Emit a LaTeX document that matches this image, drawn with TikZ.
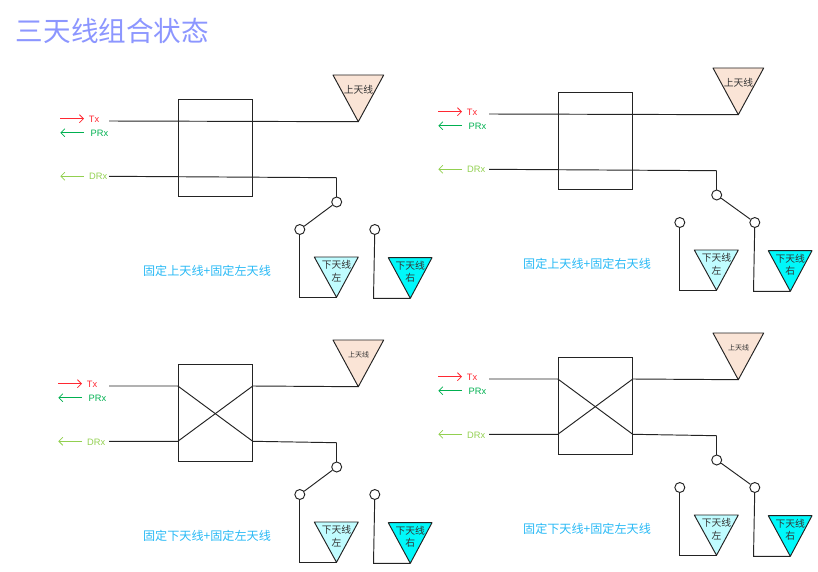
\documentclass[tikz,border=0pt]{standalone}
\usepackage{fontspec}
\setmainfont{Liberation Sans}
\newfontfamily\cjk{Noto Sans CJK SC}
\usetikzlibrary{arrows.meta}
\definecolor{coltitle}{RGB}{140,150,255}
\definecolor{colcap}{RGB}{40,185,245}
\definecolor{coltx}{RGB}{255,40,50}
\definecolor{colprx}{RGB}{0,176,80}
\definecolor{coldrx}{RGB}{146,208,80}
\definecolor{coltop}{RGB}{250,228,214}
\definecolor{colleft}{RGB}{192,252,255}
\definecolor{colright}{RGB}{0,248,250}
\definecolor{colwire}{RGB}{35,35,35}
\tikzset{
  wire/.style={colwire, line width=0.95pt},
  sigarrow/.style={line width=0.8pt, -{Straight Barb[length=4pt,width=8pt]}},
  siglab/.style={anchor=west, inner ysep=0pt, font=\fontsize{9.3}{10}\selectfont},
  antenna/.style={wire, line join=round},
  antlab/.style={align=center, inner sep=0pt, text=black!80, font=\fontsize{9.8}{12.3}\selectfont\cjk},
  contact/.style={wire, circle, draw, fill=white, inner sep=0pt, minimum size=10pt},
  duplexer/.style={wire, draw, fill=white, inner sep=0pt, minimum width=74pt, minimum height=96.7pt},
  caption/.style={colcap, inner sep=0pt, font=\fontsize{12.1}{14}\selectfont\cjk}
}
% common part of a panel: #1 label shift, #2 caption, #3 top antenna label font size
\newcommand{\panelbase}[3]{
  \node (box) [duplexer] at (215.3, 148.3) {};
  \coordinate (txin) at (109, 121);
  \coordinate (drxin) at (109, 176.3);
  \coordinate (txwest) at (box.west |- txin);
  \coordinate (txeast) at (box.east |- txin);
  \coordinate (drxwest) at (box.west |- drxin);
  \coordinate (drxeast) at (box.east |- drxin);
  % signal labels and their arrows
  \coordinate (txtail) at (#1+58.3, 118.7);
  \coordinate (prxtip) at (#1+58.3, 132.7);
  \coordinate (drxtip) at (#1+58.3, 176.3);
  \node (txlab) [siglab, coltx, inner xsep=4.7pt] at (#1+82, 119.2) {Tx};
  \node (prxlab) [siglab, colprx, inner xsep=6.5pt] at (#1+82, 133.2) {PRx};
  \node (drxlab) [siglab, coldrx, inner xsep=5pt] at (#1+82, 176.8) {DRx};
  \draw [sigarrow, coltx] (txtail) -- (txlab.west |- txtail);
  \draw [sigarrow, colprx] (prxlab.west |- prxtip) -- (prxtip);
  \draw [sigarrow, coldrx] (drxlab.west |- drxtip) -- (drxtip);
  % antennas
  \draw [antenna, fill=coltop] (333, 75) -- (383.7, 75) -- (358.3, 121.7) coordinate (toptip) -- cycle;
  \node (toplab) [antlab, font=\fontsize{#3}{12}\selectfont\cjk] at (358.5, 90) {上天线};
  \draw [antenna, fill=colleft] (314.3, 257) -- (358.3, 257) -- (336.5, 297.3) coordinate (lefttip) -- cycle;
  \node (leftlab) [antlab] at (336.5, 271.2) {下天线\\左};
  \draw [antenna, fill=colright] (388.3, 257.7) -- (432, 257.7) -- (410.3, 298.3) coordinate (righttip) -- cycle;
  \node (rightlab) [antlab] at (410.3, 272) {下天线\\右};
  % switch
  \node (swcom) [contact] at (336.7, 202) {};
  \node (swleft) [contact] at (299.8, 229.5) {};
  \node (swright) [contact] at (374.8, 229.5) {};
  \coordinate (drxcorner) at (336.7, 177.7);
  \coordinate (rightcorner) at (373.5, 298.3);
  \draw [wire] (drxcorner) -- (swcom);
  \draw [wire] (swleft) |- (lefttip);
  \draw [wire] (swright) -- (rightcorner) -- (righttip);
  \node (cap) [caption] at (207, 271) {#2};
}
\begin{document}
\begin{tikzpicture}[x=1pt, y=-1pt]
  \useasboundingbox (0, 0) rectangle (818, 572);

  \node (title) [coltitle, inner sep=0pt, font=\fontsize{27.6}{30}\selectfont\cjk] at (112.5, 31) {三天线组合状态};

  % fixed upper + fixed left
  \begin{scope}[name prefix=a-]
    \panelbase{2}{固定上天线+固定左天线}{9.8}
    \draw [wire] (txin) -- (toptip);
    \draw [wire] (drxin) -- (drxcorner);
    \draw [wire] (swcom) -- (swleft);
  \end{scope}

  % fixed upper + fixed right
  \begin{scope}[shift={(380, -7)}, name prefix=b-]
    \panelbase{0}{固定上天线+固定右天线}{9.8}
    \draw [wire] (txin) -- (toptip);
    \draw [wire] (drxin) -- (drxcorner);
    \draw [wire] (swcom) -- (swright);
  \end{scope}

  % fixed lower + fixed left
  \begin{scope}[shift={(0, 265)}, name prefix=c-]
    \panelbase{0}{固定下天线+固定左天线}{7}
    \draw [wire] (txin) -- (txwest) -- (drxeast) -- (drxcorner);
    \draw [wire] (drxin) -- (drxwest) -- (txeast) -- (toptip);
    \draw [wire] (swcom) -- (swleft);
  \end{scope}

  % fixed lower + fixed left, second switch position
  \begin{scope}[shift={(380, 258)}, name prefix=d-]
    \panelbase{0}{固定下天线+固定左天线}{7}
    \draw [wire] (txin) -- (txwest) -- (drxeast) -- (drxcorner);
    \draw [wire] (drxin) -- (drxwest) -- (txeast) -- (toptip);
    \draw [wire] (swcom) -- (swright);
  \end{scope}
\end{tikzpicture}
\end{document}
